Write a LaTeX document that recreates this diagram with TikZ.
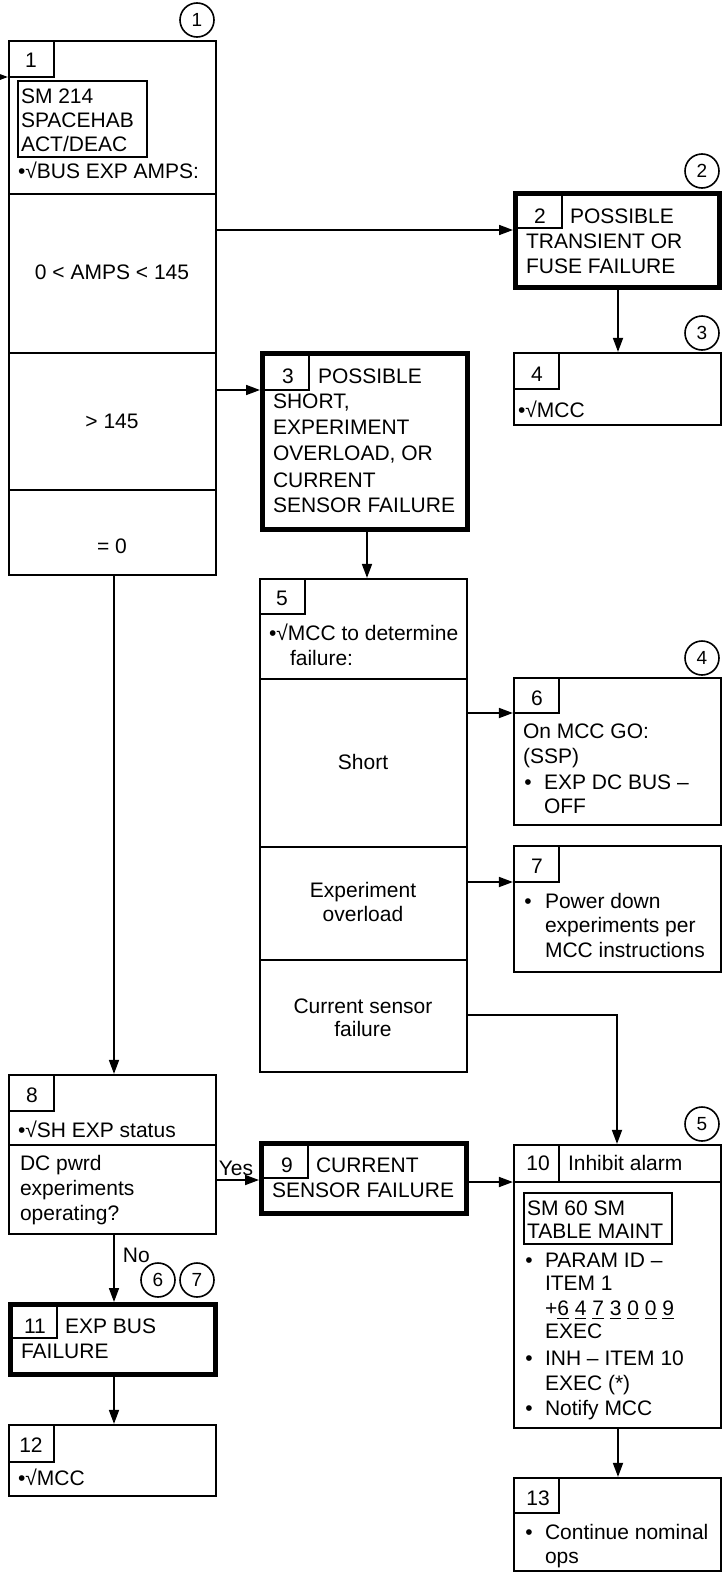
\documentclass[tikz,border=0pt]{standalone}
\usepackage{fontspec}
\setmainfont{Liberation Sans}
\usetikzlibrary{arrows.meta}
\newcommand\fs{\fontsize{21}{25}\selectfont}
\newcommand\udig[1]{\setbox0\hbox{#1}\rlap{\rule[-4pt]{\wd0}{1.4pt}}\box0\relax}
\begin{document}
\begin{tikzpicture}[x=1pt,y=-1pt,
  every node/.style={inner sep=0pt},
  nbox/.style={draw, line width=2.2pt, outer sep=1.1pt, minimum width=207pt},
  tbox/.style={draw, line width=5pt, outer sep=2.5pt},
  tabline/.style={line width=1.7pt},
  inbox/.style={line width=2pt},
  conn/.style={line width=1.7pt, -{Triangle[length=14pt,width=10pt]}},
  tx/.style={anchor=base west, font=\fs, outer sep=0pt},
  tc/.style={anchor=base, font=\fs, outer sep=0pt},
  circ/.style={circle, draw, line width=1.6pt, minimum size=34pt, font=\fontsize{19}{22}\selectfont}]
\useasboundingbox (0,0) rectangle (727,1579);
\fill[white] (0,0) rectangle (727,1579);

% ---------- boxes ----------
\node[nbox, minimum height=534pt] (b1) at (112.5,308) {};
\node[tbox, minimum width=204pt, minimum height=94pt] (b2) at (617.5,240.5) {};
\node[tbox, minimum width=205pt, minimum height=176pt] (b3) at (365,441.5) {};
\node[nbox, minimum height=72pt] (b4) at (617.5,389) {};
\node[nbox, minimum height=493pt] (b5) at (363.5,825.5) {};
\node[nbox, minimum height=147pt] (b6) at (617.5,751.5) {};
\node[nbox, minimum height=126pt] (b7) at (617.5,909) {};
\node[nbox, minimum height=159pt] (b8) at (112.5,1154.5) {};
\node[tbox, minimum width=205pt, minimum height=70pt] (b9) at (364,1178.5) {};
\node[nbox, minimum height=283pt] (b10) at (617.5,1286.5) {};
\node[tbox, minimum width=205pt, minimum height=70pt] (b11) at (113,1339.5) {};
\node[nbox, minimum height=71pt] (b12) at (112.5,1460.5) {};
\node[nbox, minimum height=93pt] (b13) at (617.5,1524.5) {};

% ---------- tabs and dividers ----------
\draw[tabline] (9,77) -| (54,41);
\draw[tabline] (515.5,228) -| (562,193.5);
\draw[tabline] (262.5,390) -| (309,353.5);
\draw[tabline] (514,389) -| (559,353);
\draw[tabline] (260,614) -| (305,579);
\draw[tabline] (514,713) -| (559,678);
\draw[tabline] (514,882) -| (559,846);
\draw[tabline] (9,1111) -| (54,1075);
\draw[tabline] (261.5,1178) -| (308,1143.5);
\draw[tabline] (514,1182) -- (721,1182);
\draw[tabline] (559,1145) -- (559,1182);
\draw[tabline] (10.5,1338) -| (57,1304.5);
\draw[tabline] (9,1462) -| (54,1425);
\draw[tabline] (514,1513) -| (559,1478);
\draw[tabline] (9,194) -- (216,194);
\draw[tabline] (9,353) -- (216,353);
\draw[tabline] (9,490) -- (216,490);
\draw[tabline] (260,679) -- (467,679);
\draw[tabline] (260,847) -- (467,847);
\draw[tabline] (260,960) -- (467,960);
\draw[tabline] (9,1145) -- (216,1145);
\draw[inbox] (18,81) rectangle (147,157);
\draw[inbox] (524,1193) rectangle (672,1244);

% ---------- texts ----------
% box 1
\node[tc] (n1) at (31,67) {1};
\node[tx] (t1a) at (21,103) {SM 214};
\node[tx] (t1b) at (21,127) {SPACEHAB};
\node[tx] (t1c) at (21,151) {ACT/DEAC};
\node[tx] (t1d) at (18,178) {•√BUS EXP AMPS:};
\node[tc] (t1e) at (112,279) {0 < AMPS < 145};
\node[tc] (t1f) at (112,428) {> 145};
\node[tc] (t1g) at (112,553) {= 0};
% box 2
\node[tc] (n2) at (540,223) {2};
\node[tx] (t2a) at (570,223) {POSSIBLE};
\node[tx] (t2b) at (526,248) {TRANSIENT OR};
\node[tx] (t2c) at (526,273) {FUSE FAILURE};
% box 3
\node[tc] (n3) at (288,383) {3};
\node[tx] (t3a) at (318,383) {POSSIBLE};
\node[tx] (t3b) at (273,408) {SHORT,};
\node[tx] (t3c) at (273,434) {EXPERIMENT};
\node[tx] (t3d) at (273,460) {OVERLOAD, OR};
\node[tx] (t3e) at (273,487) {CURRENT};
\node[tx] (t3f) at (273,512) {SENSOR FAILURE};
% box 4
\node[tc] (n4) at (537,381) {4};
\node[tx] (t4a) at (518,417) {•√MCC};
% box 5
\node[tc] (n5) at (282,605) {5};
\node[tx] (t5a) at (269,640) {•√MCC to determine};
\node[tx] (t5b) at (290,665) {failure:};
\node[tc] (t5c) at (363,769) {Short};
\node[tc] (t5d) at (363,897) {Experiment};
\node[tc] (t5e) at (363,921) {overload};
\node[tc] (t5f) at (363,1013) {Current sensor};
\node[tc] (t5g) at (363,1036) {failure};
% box 6
\node[tc] (n6) at (537,705) {6};
\node[tx] (t6a) at (523,738) {On MCC GO:};
\node[tx] (t6b) at (523,763) {(SSP)};
\node[tc] (t6c) at (528,789) {•};
\node[tx] (t6d) at (544,789) {EXP DC BUS –};
\node[tx] (t6e) at (544,813) {OFF};
% box 7
\node[tc] (n7) at (537,873) {7};
\node[tc] (t7a) at (528,908) {•};
\node[tx] (t7b) at (545,908) {Power down};
\node[tx] (t7c) at (545,932) {experiments per};
\node[tx] (t7d) at (545,957) {MCC instructions};
% box 8
\node[tc] (n8) at (32,1102) {8};
\node[tx] (t8a) at (18,1137) {•√SH EXP status};
\node[tx] (t8b) at (20,1170) {DC pwrd};
\node[tx] (t8c) at (20,1195) {experiments};
\node[tx] (t8d) at (20,1220) {operating?};
% box 9
\node[tc] (n9) at (287,1172) {9};
\node[tx] (t9a) at (316,1172) {CURRENT};
\node[tx] (t9b) at (272,1197) {SENSOR FAILURE};
% box 10
\node[tc] (n10) at (538,1170) {10};
\node[tx] (t10a) at (568,1170) {Inhibit alarm};
\node[tx] (t10b) at (527,1215) {SM 60 SM};
\node[tx] (t10c) at (527,1238) {TABLE MAINT};
\node[tc] (t10d) at (529,1267) {•};
\node[tx] (t10e) at (545,1267) {PARAM ID –};
\node[tx] (t10f) at (545,1290) {ITEM 1};
\node[tx] (t10g) at (545,1315) {+\udig{6} \udig{4} \udig{7} \udig{3} \udig{0} \udig{0} \udig{9}};
\node[tx] (t10h) at (545,1338) {EXEC};
\node[tc] (t10i) at (529,1365) {•};
\node[tx] (t10j) at (545,1365) {INH – ITEM 10};
\node[tx] (t10k) at (545,1390) {EXEC (*)};
\node[tc] (t10l) at (529,1415) {•};
\node[tx] (t10m) at (545,1415) {Notify MCC};
% box 11
\node[tc] (n11) at (35,1333) {11};
\node[tx] (t11a) at (65,1333) {EXP BUS};
\node[tx] (t11b) at (21,1358) {FAILURE};
% box 12
\node[tc] (n12) at (31,1452) {12};
\node[tx] (t12a) at (18,1485) {•√MCC};
% box 13
\node[tc] (n13) at (538,1505) {13};
\node[tc] (t13a) at (529,1539) {•};
\node[tx] (t13b) at (545,1539) {Continue nominal};
\node[tx] (t13c) at (545,1563) {ops};

% ---------- circled references ----------
\node[circ] (c1) at (197,20) {1};
\node[circ] (c2) at (702,171) {2};
\node[circ] (c3) at (702,333) {3};
\node[circ] (c4) at (702,658) {4};
\node[circ] (c5) at (702,1124) {5};
\node[circ] (c6) at (158,1280) {6};
\node[circ] (c7) at (197,1280) {7};

% ---------- connectors ----------
\coordinate (ent) at (0,77);
\coordinate (y230) at (0,230);
\coordinate (y390) at (0,390);
\coordinate (y713) at (0,713);
\coordinate (y882) at (0,882);
\coordinate (y1015) at (0,1015);
\coordinate (y1180) at (0,1180);
\coordinate (y1182) at (0,1182);
\coordinate (x114) at (114,0);
\coordinate (x367) at (367,0);
\coordinate (x617) at (617,0);
\coordinate (x618) at (618,0);

\draw[conn] (ent) -- (ent -| b1.west);
\draw[conn] (b1.east |- y230) -- (b2.west |- y230);
\draw[conn] (b1.east |- y390) -- (b3.west |- y390);
\draw[conn] (b2.south -| x618) -- (b4.north -| x618);
\draw[conn] (b3.south -| x367) -- (b5.north -| x367);
\draw[conn] (b5.east |- y713) -- (b6.west |- y713);
\draw[conn] (b5.east |- y882) -- (b7.west |- y882);
\draw[conn] (b5.east |- y1015) -| (b10.north -| x617);
\draw[conn] (b1.south -| x114) -- (b8.north -| x114);
\draw[conn] (b8.east |- y1180) -- node[pos=0.45, above=3pt, font=\fs] (yes) {Yes} (b9.west |- y1180);
\draw[conn] (b9.east |- y1182) -- (b10.west |- y1182);
\draw[conn] (b8.south -| x114) -- node[pos=0.3, right=8pt, font=\fs] (no) {No} (b11.north -| x114);
\draw[conn] (b11.south -| x114) -- (b12.north -| x114);
\draw[conn] (b10.south -| x618) -- (b13.north -| x618);
\end{tikzpicture}
\end{document}
